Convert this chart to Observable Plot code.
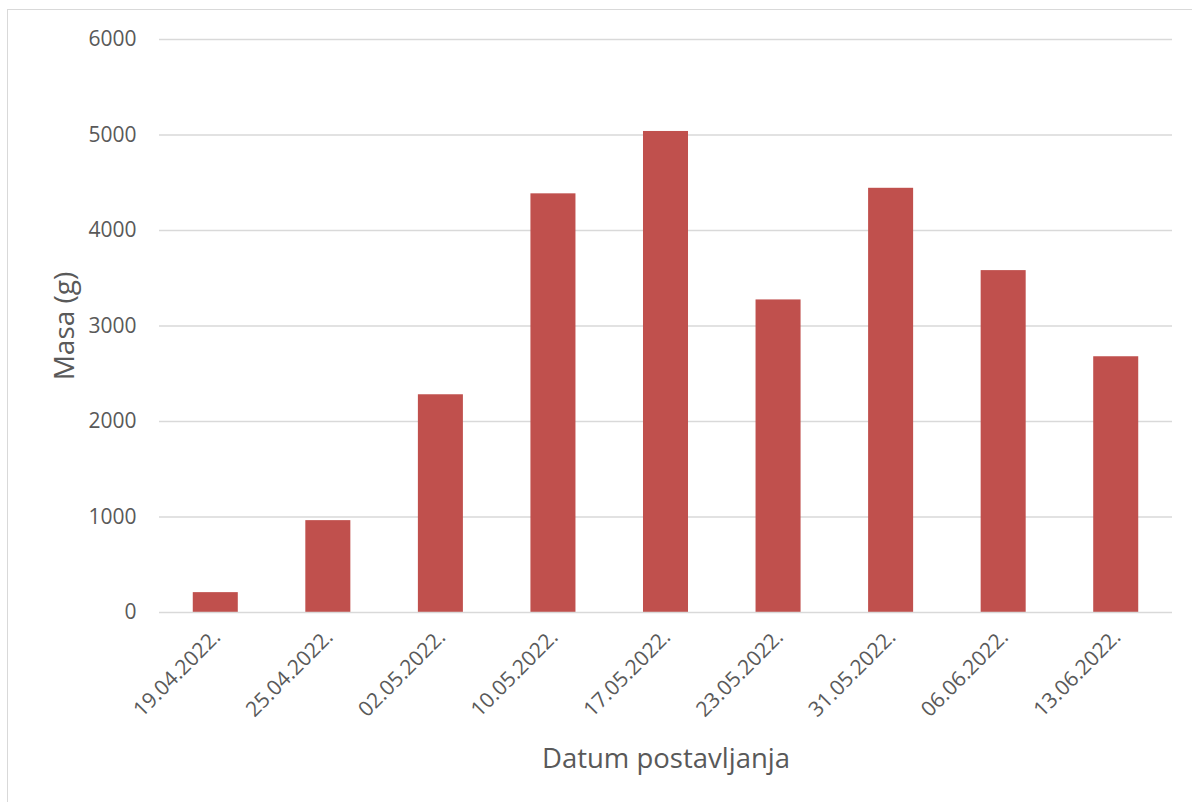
<!DOCTYPE html>
<html>
<head>
<meta charset="utf-8">
<script src="https://cdn.jsdelivr.net/npm/d3@7"></script>
<script src="https://cdn.jsdelivr.net/npm/@observablehq/plot@0.6"></script>
<style>
  html, body { margin: 0; padding: 0; background: #fff; }
  #wrap { position: relative; width: 1192px; height: 802px; overflow: hidden; }
  #frame { position: absolute; left: 7px; top: 9px; width: 1200px; height: 810px; border: 1.5px solid #d9d9d9; box-sizing: border-box; }
  #chart { position: absolute; left: 0; top: 0; }
</style>
</head>
<body>
<div id="wrap"><div id="frame"></div><div id="chart"></div></div>
<script>
const dates = ["19.04.2022.", "25.04.2022.", "02.05.2022.", "10.05.2022.", "17.05.2022.", "23.05.2022.", "31.05.2022.", "06.06.2022.", "13.06.2022."];
const masses = [208, 962, 2280, 4384, 5037, 3273, 4442, 3580, 2678];
const yTicks = [0, 1000, 2000, 3000, 4000, 5000, 6000];
const yTitle = "Masa (g)";
const xTitle = "Datum postavljanja";

const data = dates.map((d, i) => ({date: d, mass: masses[i]}));
const textColor = "#595959";

const chart = Plot.plot({
  width: 1192,
  height: 802,
  marginLeft: 159,
  marginRight: 20,
  marginTop: 39,
  marginBottom: 190,
  style: {fontFamily: "'Open Sans', sans-serif", color: textColor, background: "transparent"},
  x: {domain: dates, paddingInner: 0.6, paddingOuter: 0.3, round: false},
  y: {domain: [0, 6000]},
  marks: [
    Plot.gridY(yTicks.filter(t => t > 0), {stroke: "#d9d9d9", strokeOpacity: 1, strokeWidth: 1.3}),
    Plot.barY(data, {x: "date", y: "mass", fill: "#c0504d"}),
    Plot.ruleY([0], {stroke: "#d9d9d9", strokeWidth: 1.5}),
    Plot.axisY({ticks: yTicks, tickSize: 0, tickPadding: 23, fontSize: 21, label: null, tickFormat: d => String(d), fill: textColor}),
    Plot.axisX({tickRotate: -45, tickSize: 0, tickPadding: 21, dx: 1, fontSize: 21, label: null, fill: textColor}),
    Plot.text([yTitle], {frameAnchor: "left", text: d => d, rotate: -90, textAnchor: "middle", dx: -86, dy: 0, lineAnchor: "bottom", fontSize: 28, fill: textColor}),
    Plot.text([xTitle], {frameAnchor: "bottom", text: d => d, textAnchor: "middle", dy: 155, lineAnchor: "bottom", fontSize: 27.5, fill: textColor})
  ]
});
document.getElementById("chart").appendChild(chart);
</script>
</body>
</html>
